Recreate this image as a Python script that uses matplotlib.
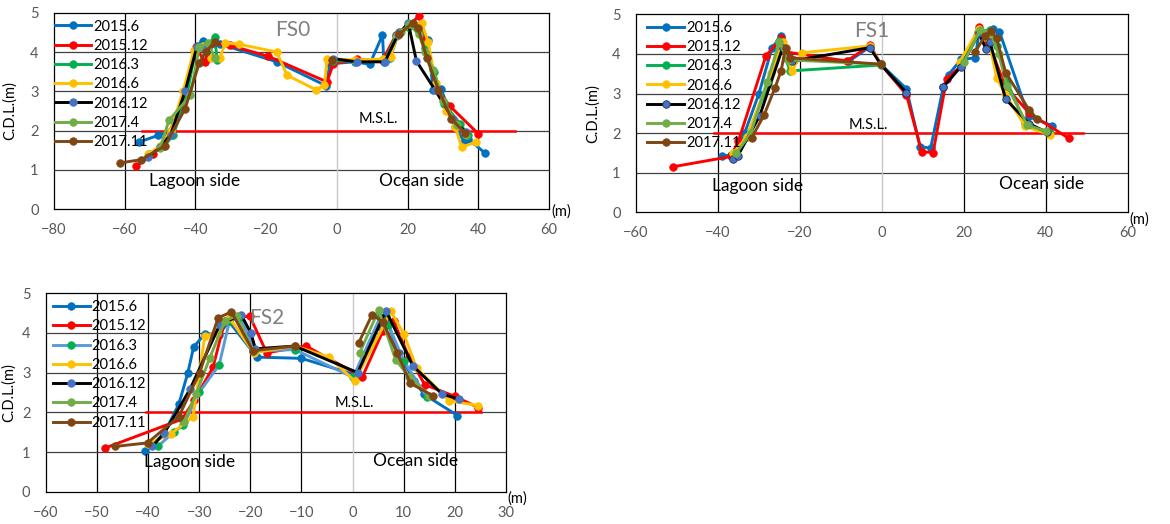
import numpy as np
import matplotlib
matplotlib.use("Agg")
import matplotlib.pyplot as plt

plt.rcParams['font.family'] = ['Lato', 'DejaVu Sans']

nan = np.nan
labels = ["2015.6", "2015.12", "2016.3", "2016.6", "2016.12", "2017.4", "2017.11"]

# ------------------------------
# FS0 profiles
# ------------------------------
fs0_x_1506 = [-56, -50.5, -47, -43, -39.6, -37.9, -36.5, -35, -33, -17, -3, -2, 5, 9.3, 12.9, 13.3, 15, 17.5, 21, 23, 25.8, 27.2, 29.5, 33.5, 36, 37.1, 41.9]
fs0_y_1506 = [1.71, 1.88, 2.0, 3.0, 4.15, 4.29, 3.85, 4.22, 4.2, 3.75, 3.14, 3.7, 3.75, 3.69, 4.43, 3.74, 3.85, 4.5, 4.7, 4.6, 4.3, 3.03, 3.05, 2.1, 1.72, 1.79, 1.43]
fs0_x_1512 = [-56.8, -52, -47.5, -43, -39.9, -37.4, -35.4, -30.3, -19.4, -2.8, -1, 5.6, 13, 16.7, 20, 23.3, 25, 28, 32, 40]
fs0_y_1512 = [1.1, 1.4, 1.92, 2.9, 4.13, 3.75, 4.22, 4.17, 3.89, 3.24, 3.7, 3.81, 3.8, 4.43, 4.65, 4.92, 4.3, 3.1, 2.62, 1.92]
fs0_x_1603 = [-53, -49, -46.3, -42.4, -40, -37.5, -34.6, -33.8, nan, -1, 5, 13.5, 16.7, 20.2, 23, 25, 27.5, 30.3, 34.8, 37]
fs0_y_1603 = [1.4, 1.6, 1.88, 2.9, 4.05, 4.1, 4.37, 3.79, nan, 3.78, 3.77, 3.76, 4.4, 4.64, 4.55, 4.1, 3.5, 2.69, 2.18, 1.9]
fs0_x_1606 = [-53.3, -50, -47, -43.5, -40.4, -38, -35.5, -33.1, -31.5, -27.8, -17, -14.1, -5.9, -3.5, -2.8, 5, 13, 15.2, 17, 21, 24, 25.8, 28, 31, 33.5, 35.3, 39.4]
fs0_y_1606 = [1.41, 1.6, 2.0, 3.0, 4.05, 4.15, 3.85, 3.86, 4.23, 4.2, 4.0, 3.41, 3.04, 3.15, 3.83, 3.8, 3.82, 3.88, 4.4, 4.7, 4.74, 4.26, 3.2, 2.5, 2.1, 1.58, 1.71]
fs0_x_1612 = [-53.3, -50, -47, -42.9, -39.6, -38, nan, -1, 5.6, 13.6, 17.2, 20.2, 22.5, 27.8, 32.8, 36.4]
fs0_y_1612 = [1.33, 1.58, 1.9, 3.01, 4.13, 4.1, nan, 3.83, 3.75, 3.75, 4.43, 4.74, 3.77, 3.03, 2.3, 1.96]
fs0_x_1704 = [-50, -47.5, -41.4, -38.9, -36.4, -34.5, nan, 18, 20.5, 23.2, 25, 27.3, 30, 34, 36.5]
fs0_y_1704 = [1.55, 2.26, 2.9, 4.13, 4.22, 3.85, nan, 4.5, 4.7, 4.45, 4.0, 3.54, 2.75, 2.15, 1.9]
fs0_x_1711 = [-61.3, -55.4, -48.7, -42.9, -38.9, -37.1, -34.5, nan, -1.5, nan, 17.6, 21.4, 23, 25.4, 28.7, 32.4, 36.2]
fs0_y_1711 = [1.18, 1.26, 1.61, 2.56, 3.73, 4.0, 4.26, nan, 3.79, nan, 4.45, 4.74, 4.6, 3.86, 3.04, 2.3, 1.94]

# ------------------------------
# FS1 profiles
# ------------------------------
fs1_x_1506 = [-39, -36.8, -33.5, -30, -26.8, -24.6, -23.5, -21.5, -8, -2.9, -0.3, 6, 9.3, 11.9, 15, 16.3, 19.3, 22.8, 23.7, 27.1, 28.7, 35.8, 41.5]
fs1_y_1506 = [1.41, 1.45, 2.0, 3.0, 4.16, 4.44, 3.9, 3.85, 3.82, 4.18, 3.74, 3.12, 1.66, 1.62, 3.17, 3.48, 3.86, 3.9, 4.54, 4.63, 4.56, 2.42, 2.19]
fs1_x_1512 = [-51, -36.8, -35, -28.3, -24.6, -23.5, -8.5, -2.9, -0.3, 6, 9.7, 12.5, 15.8, 19.3, 23.7, 26, 30, 36, 45.6]
fs1_y_1512 = [1.15, 1.41, 1.8, 3.95, 4.39, 4.05, 3.82, 4.22, 3.74, 2.97, 1.53, 1.51, 3.37, 3.69, 4.69, 4.3, 3.2, 2.5, 1.87]
fs1_x_1603 = [-36, -33, -27.7, -25, -22.4, -0.3, nan, 19, 23.5, 26.5, 28, 30.5, 35, 41]
fs1_y_1603 = [1.45, 1.9, 3.23, 4.33, 3.57, 3.72, nan, 3.75, 4.55, 4.6, 4.2, 3.3, 2.25, 2.0]
fs1_x_1606 = [-36.3, -33, -27, -24.2, -22, -19.4, -2.9, -0.3, nan, 19, 23.7, 26, 28, 30, 35, 41]
fs1_y_1606 = [1.49, 1.9, 3.52, 4.29, 3.57, 4.03, 4.2, 3.74, nan, 3.8, 4.64, 4.4, 3.4, 3.0, 2.17, 1.96]
fs1_x_1612 = [-36.3, -35.2, -29.8, -24.2, -22, -2.9, -0.3, 6, nan, 15, 19.3, 23.7, 25.4, 26.4, 30.2, 35.9, 40.2]
fs1_y_1612 = [1.34, 1.42, 2.44, 4.16, 3.82, 4.16, 3.74, 3.02, nan, 3.17, 3.68, 4.52, 4.12, 4.29, 2.86, 2.24, 2.02]
fs1_x_1704 = [-35.5, -32, -28, -25, -23, -0.3, nan, 20, 24, 26.5, 28.5, 30.5, 35.5, 40]
fs1_y_1704 = [1.5, 2.0, 3.3, 4.3, 3.85, 3.74, nan, 3.8, 4.6, 4.55, 4.0, 3.2, 2.2, 2.05]
fs1_x_1711 = [-31.8, -28.7, -26.1, -24.6, -23.5, -22.4, -0.3, nan, 22.8, 25.2, 26.7, 28, 30.2, 35.9, 37.9]
fs1_y_1711 = [1.87, 2.47, 3.14, 3.57, 4.16, 3.9, 3.74, nan, 4.06, 4.46, 4.58, 4.39, 3.53, 2.59, 2.36]

# ------------------------------
# FS2 profiles
# ------------------------------
fs2_x_1506 = [-40.6, -36.9, -34, -32.2, -31.1, -28.9, -26.1, -24.2, -18.7, -10, 0.4, 5.8, 6.5, 9, 12, 14, 20.5]
fs2_y_1506 = [1.02, 1.46, 2.2, 3.0, 3.64, 3.98, 3.96, 4.29, 3.39, 3.36, 2.95, 4.1, 4.4, 3.5, 2.8, 2.45, 1.92]
fs2_x_1512 = [-48.4, -33.3, -31, -27.3, -25, -22, -20.1, -16.8, -9.1, 1.9, 5.9, 8, 11, 14.1, 20, 24.6]
fs2_y_1512 = [1.1, 1.83, 2.3, 3.13, 4.3, 4.4, 4.42, 3.5, 3.67, 2.89, 4.04, 4.3, 3.4, 2.7, 2.4, 2.12]
fs2_x_1603 = [-38, -35, -33.1, -30, -26.1, -24.1, -22, -19, -11.3, 0.1, 5.4, 7, 10, 14.5]
fs2_y_1603 = [1.15, 1.5, 1.67, 2.5, 3.19, 4.29, 4.4, 3.54, 3.58, 2.88, 4.4, 4.2, 3.3, 2.39]
fs2_x_1606 = [-40, -35.5, -31.2, -28.9, -26.5, -24.1, -19.3, -11.3, -4.6, 0.4, 7.5, 10, 12.5, 18.9, 24.6]
fs2_y_1606 = [1.2, 1.46, 1.89, 3.92, 4.0, 4.38, 3.5, 3.67, 3.39, 2.79, 4.54, 3.98, 3.12, 2.29, 2.17]
fs2_x_1612 = [-39.2, -36.8, -31.8, -26, -21.8, -19.9, -19, -11.3, 1, 6.5, 11.8, 17.5, 20.8]
fs2_y_1612 = [1.14, 1.48, 2.58, 4.2, 4.46, 4.0, 3.6, 3.67, 3.0, 4.56, 3.17, 2.46, 2.33]
fs2_x_1704 = [-33, -30.6, -27.9, -25, -22.7, -19.5, nan, 1.4, 5.1, 8.4, 11, 15]
fs2_y_1704 = [1.75, 2.46, 3.38, 4.3, 4.43, 3.55, nan, 3.5, 4.58, 3.33, 2.9, 2.42]
fs2_x_1711 = [-46.5, -40.1, -34, -29.9, -26.3, -23.7, -19.5, -11.3, nan, 1.2, 3.8, 5.9, 8.7, 11.3, 15.7]
fs2_y_1711 = [1.14, 1.23, 1.89, 3.0, 4.38, 4.53, 3.55, 3.67, nan, 3.75, 4.46, 4.28, 3.5, 2.73, 2.42]

msl = 2.0
fs0_msl_x = [-55, 50.5]
fs1_msl_x = [-41, 49]
fs2_msl_x = [-40.4, 25.1]

line_colors = ["#0070C0", "#FF0000", "#00B050", "#FFC000", "black", "#70AD47", "#7F4512"]
marker_colors = ["#0070C0", "#FF0000", "#00B050", "#FFC000", "#4472C4", "#70AD47", "#7F4512"]

fig = plt.figure(figsize=(11.7, 5.24), dpi=100)
ax0 = fig.add_axes([0.04615, 0.6006, 0.4231, 0.3752])
ax1 = fig.add_axes([0.5436, 0.5948, 0.4203, 0.3779])
ax2 = fig.add_axes([0.0391, 0.0616, 0.3934, 0.3788])


def draw_panel(ax, xs, ys, xlim, xstep, vlines, msl_x, name, name_xy, msl_xy,
               lag_xy, oce_xy, leg_anchor, m_y, lab_x, lcolors, edge=False):
    for xv in vlines:
        ax.axvline(xv, color="black", lw=0.9, zorder=1)
    for yv in [1, 2, 3, 4]:
        ax.axhline(yv, color="#404040", lw=0.9, zorder=1)
    ax.axvline(0, color="#C8C8C8", lw=1.0, zorder=1)
    ax.plot(msl_x, [msl, msl], color="#FF0000", lw=1.8, zorder=2)
    for i in range(7):
        mec = "#1F2F55" if (edge and i == 4) else marker_colors[i]
        ax.plot(xs[i], ys[i], color=lcolors[i], lw=2.1, marker="o", ms=5.4,
                mfc=marker_colors[i], mec=mec, mew=0.6, label=labels[i], zorder=3)
    ax.set_xlim(*xlim)
    ax.set_ylim(0, 5)
    ax.set_xticks(np.arange(xlim[0], xlim[1] + 1, xstep))
    ax.set_yticks([0, 1, 2, 3, 4, 5])
    ax.tick_params(length=0, pad=10, labelsize=10.5, labelcolor="#595959")
    ax.tick_params(axis="y", pad=11)
    for s in ax.spines.values():
        s.set_color("black")
        s.set_linewidth(0.9)
    ax.set_ylabel("C.D.L.(m)", fontsize=10.5)
    ax.yaxis.set_label_coords(lab_x, 0.5)
    ax.text(name_xy[0], name_xy[1], name, fontsize=15, color="#7F7F7F", ha="center", va="center")
    ax.text(msl_xy[0], msl_xy[1], "M.S.L.", fontsize=10.5, ha="center", va="center")
    ax.text(lag_xy[0], lag_xy[1], "Lagoon side", fontsize=12.5, ha="center", va="center")
    ax.text(oce_xy[0], oce_xy[1], "Ocean side", fontsize=12.5, ha="center", va="center")
    ax.text(1.004, m_y, "(m)", transform=ax.transAxes, fontsize=10.5, ha="left", va="center")
    ax.legend(loc="upper left", bbox_to_anchor=leg_anchor, frameon=False, fontsize=10.5,
              handlelength=2.5, handletextpad=0.15, labelspacing=0.36, borderpad=0,
              borderaxespad=0)


draw_panel(ax0,
           [fs0_x_1506, fs0_x_1512, fs0_x_1603, fs0_x_1606, fs0_x_1612, fs0_x_1704, fs0_x_1711],
           [fs0_y_1506, fs0_y_1512, fs0_y_1603, fs0_y_1606, fs0_y_1612, fs0_y_1704, fs0_y_1711],
           (-80, 60), 20, [-60, -40, 20, 40], fs0_msl_x, "FS0", (-12.6, 4.56), (11.8, 2.3),
           (-40.3, 0.73), (24.0, 0.73), (0.002, 0.965), -0.012, -0.075, line_colors)

draw_panel(ax1,
           [fs1_x_1506, fs1_x_1512, fs1_x_1603, fs1_x_1606, fs1_x_1612, fs1_x_1704, fs1_x_1711],
           [fs1_y_1506, fs1_y_1512, fs1_y_1603, fs1_y_1606, fs1_y_1612, fs1_y_1704, fs1_y_1711],
           (-60, 60), 20, [-40, -20, 20, 40], fs1_msl_x, "FS1", (-2.4, 4.58), (-3.3, 2.21),
           (-30.3, 0.66), (39.0, 0.71), (0.023, 0.967), -0.035, -0.073, line_colors, edge=True)

fs2_colors = list(line_colors)
fs2_colors[2] = "#5B9BD5"
draw_panel(ax2,
           [fs2_x_1506, fs2_x_1512, fs2_x_1603, fs2_x_1606, fs2_x_1612, fs2_x_1704, fs2_x_1711],
           [fs2_y_1506, fs2_y_1512, fs2_y_1603, fs2_y_1606, fs2_y_1612, fs2_y_1704, fs2_y_1711],
           (-60, 30), 10, [-50, -40, -30, -20, -10, 10, 20], fs2_msl_x, "FS2", (-16.8, 4.38), (0.4, 2.23),
           (-31.8, 0.76), (12.3, 0.78), (0.016, 0.965), -0.035, -0.064, fs2_colors)

fig.savefig("out.png", dpi=100)
